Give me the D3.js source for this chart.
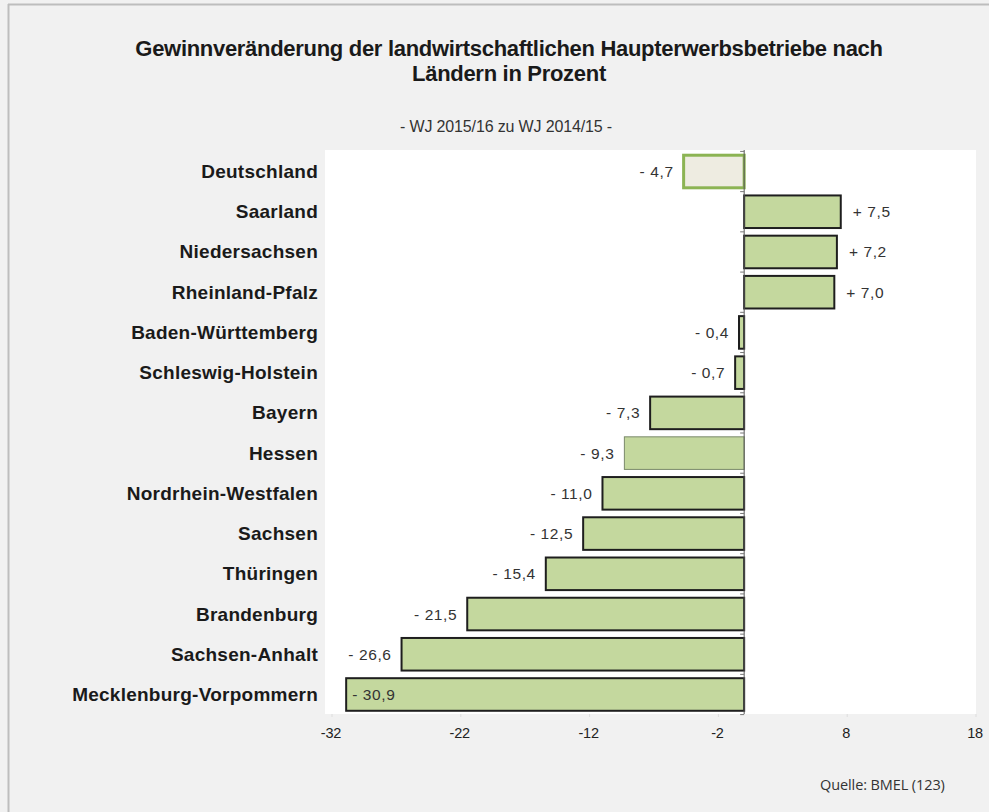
<!DOCTYPE html>
<html><head><meta charset="utf-8">
<script src="https://cdn.jsdelivr.net/npm/d3@7"></script>
<style>body{margin:0;background:#fff}</style>
</head><body>
<svg id="c" width="989" height="812"></svg>
<script>
const categories = ["Deutschland","Saarland","Niedersachsen","Rheinland-Pfalz","Baden-Württemberg","Schleswig-Holstein","Bayern","Hessen","Nordrhein-Westfalen","Sachsen","Thüringen","Brandenburg","Sachsen-Anhalt","Mecklenburg-Vorpommern"];
const values = [-4.7,7.5,7.2,7.0,-0.4,-0.7,-7.3,-9.3,-11.0,-12.5,-15.4,-21.5,-26.6,-30.9];
const valueLabels = ["- 4,7","+ 7,5","+ 7,2","+ 7,0","- 0,4","- 0,7","- 7,3","- 9,3","- 11,0","- 12,5","- 15,4","- 21,5","- 26,6","- 30,9"];
const xTicks = [-32,-22,-12,-2,8,18];
const title = ["Gewinnveränderung der landwirtschaftlichen Haupterwerbsbetriebe nach","Ländern in Prozent"];
const subtitle = "- WJ 2015/16 zu WJ 2014/15 -";
const source = "Quelle: BMEL (123)";

const svg = d3.select("#c");
svg.append("rect").attr("width",989).attr("height",812).attr("fill","#f1f1f1");
svg.append("line").attr("x1",8).attr("x2",989).attr("y1",4.5).attr("y2",4.5).attr("stroke","#bdbdbd").attr("stroke-width",2);
svg.append("line").attr("x1",8.5).attr("x2",8.5).attr("y1",4).attr("y2",812).attr("stroke","#bdbdbd").attr("stroke-width",2);

const plot = {left:325, right:976, top:150, bottom:714};
svg.append("rect").attr("x",plot.left).attr("y",plot.top).attr("width",plot.right-plot.left).attr("height",plot.bottom-plot.top).attr("fill","#fff");

const x = d3.scaleLinear().domain([-32,18]).range([332,976]);
const y = d3.scaleBand().domain(categories).range([152,714]).paddingInner(0.19).paddingOuter(0.08);

const font = "'Liberation Sans', Arial, sans-serif";

// title
svg.append("text").attr("x",509).attr("y",56).attr("text-anchor","middle").attr("font-family",font).attr("font-weight","bold").attr("font-size",22).attr("letter-spacing",-0.3).attr("fill","#1a1a1a").text(title[0]);
svg.append("text").attr("x",509).attr("y",81).attr("text-anchor","middle").attr("font-family",font).attr("font-weight","bold").attr("font-size",22).attr("letter-spacing",-0.3).attr("fill","#1a1a1a").text(title[1]);
svg.append("text").attr("x",506).attr("y",132).attr("text-anchor","middle").attr("font-family",font).attr("font-size",16).attr("letter-spacing",-0.15).attr("fill","#333").text(subtitle);

// bars
const g = svg.append("g");
g.selectAll("rect.bar").data(categories).join("rect").attr("class","bar")
  .attr("x",(d,i)=>x(Math.min(0,values[i])))
  .attr("width",(d,i)=>Math.abs(x(values[i])-x(0)))
  .attr("y",d=>y(d)).attr("height",y.bandwidth())
  .attr("fill",(d,i)=>i===0?"#eeece1":"#c4d89e")
  .attr("stroke",(d,i)=>i===0?"#8cb453":(d==="Hessen"?"#7a8a6a":"#1e1e1e"))
  .attr("stroke-width",(d,i)=>i===0?3:(d==="Hessen"?1:2));

// zero axis line with ticks
svg.append("line").attr("x1",x(0)).attr("x2",x(0)).attr("y1",plot.top).attr("y2",plot.bottom).attr("stroke","#555").attr("stroke-width",1);
const step = y.step();
const bounds = d3.range(categories.length+1).map(i=>152 + y.paddingOuter()*step + i*step - y.paddingInner()*step/2);
svg.selectAll("line.yt").data(bounds).join("line").attr("class","yt")
  .attr("x1",x(0)-4).attr("x2",x(0)).attr("y1",d=>d).attr("y2",d=>d).attr("stroke","#777");

// bottom ticks
svg.selectAll("line.xt").data(xTicks).join("line").attr("class","xt")
  .attr("x1",d=>x(d)).attr("x2",d=>x(d)).attr("y1",plot.bottom).attr("y2",plot.bottom+3).attr("stroke","#ddd");
svg.selectAll("text.xl").data(xTicks).join("text").attr("class","xl")
  .attr("x",d=>x(d)-1).attr("y",738).attr("text-anchor","middle").attr("font-family",font).attr("font-size",14.5).attr("letter-spacing",-0.2).attr("fill","#222").text(d=>d);

// category labels
svg.selectAll("text.cat").data(categories).join("text").attr("class","cat")
  .attr("x",318).attr("y",d=>y(d)+y.bandwidth()/2+6.5).attr("text-anchor","end")
  .attr("font-family",font).attr("font-weight","bold").attr("font-size",19).attr("letter-spacing",0.25).attr("fill","#1a1a1a").text(d=>d);

// value labels
svg.selectAll("text.val").data(categories).join("text").attr("class","val")
  .each(function(d,i){
    const v = values[i];
    const t = d3.select(this).attr("y",y(d)+y.bandwidth()/2+5.5).attr("font-family",font).attr("font-size",15.5).attr("letter-spacing",0.6).attr("fill","#333").text(valueLabels[i]);
    if (v>=0) t.attr("x",x(v)+12).attr("text-anchor","start");
    else if (x(v)-60 < plot.left) t.attr("x",x(v)+6).attr("text-anchor","start");
    else t.attr("x",x(v)-10).attr("text-anchor","end");
  });

svg.append("text").attr("x",820).attr("y",790).attr("font-family","'Open Sans', sans-serif").attr("font-size",14.5).attr("letter-spacing",-0.1).attr("fill","#333").text(source);
</script>
</body></html>
